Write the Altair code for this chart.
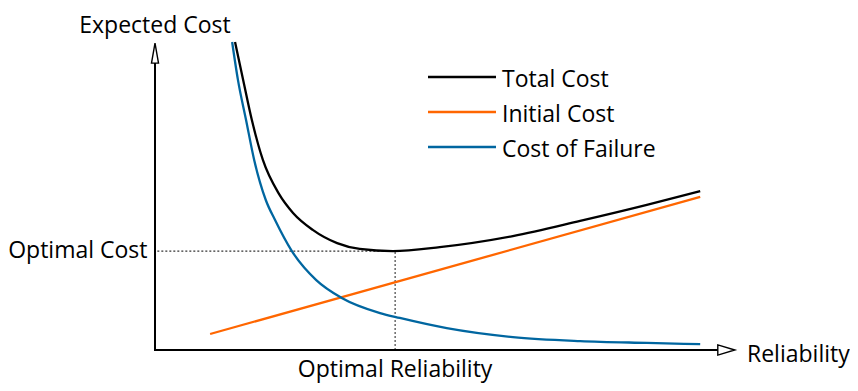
import altair as alt
import pandas as pd

# ---- values (arbitrary units, 0-100 on both axes) ----
series_names = ["Total Cost", "Initial Cost", "Cost of Failure"]
series_colors = ["#000000", "#ff6600", "#0066a0"]

total_x = [13.8, 15.2, 16.7, 18.6, 21.4, 23.8, 27.2, 31.4, 35.3, 41.0, 49.1, 61.7, 73.3, 84.8, 94.0]
total_y = [100.0, 87.7, 74.7, 61.7, 50.6, 44.5, 39.0, 34.7, 32.8, 32.1, 33.4, 37.0, 41.9, 47.1, 51.6]

initial_x = [9.5, 94.0]
initial_y = [5.2, 49.7]

failure_x = [13.3, 14.3, 15.7, 17.1, 19.1, 20.7, 23.6, 27.8, 32.2, 38.8, 42.2, 50.3, 61.7, 73.3, 84.8, 94.0]
failure_y = [100.0, 87.7, 74.7, 61.7, 48.7, 42.2, 32.1, 22.7, 16.9, 12.0, 10.4, 7.1, 4.2, 2.9, 2.3, 1.9]

optimal_reliability = 41.4
optimal_cost = 32.1

axis_x_end = 97.1
axis_y_end = 93.2
arrow_x_pos = 98.5
arrow_y_pos = 96.4

x_label = "Reliability"
y_label = "Expected Cost"
opt_cost_label = "Optimal Cost"
opt_rel_label = "Optimal Reliability"

# ---- build tables ----
rows = []
for name, xs_, ys_ in [("Total Cost", total_x, total_y),
                       ("Initial Cost", initial_x, initial_y),
                       ("Cost of Failure", failure_x, failure_y)]:
    for i, (a, b) in enumerate(zip(xs_, ys_)):
        rows.append({"series": name, "rel": a, "cost": b, "order": i})
curves = pd.DataFrame(rows)

FONT = "Open Sans"
FS = 23


def xs():
    return alt.Scale(domain=[0, 100], range=[147, 727], nice=False, zero=False)


def ys():
    return alt.Scale(domain=[0, 100], range=[342, 34], nice=False, zero=False)


color_scale = alt.Scale(domain=series_names, range=series_colors)

lines = alt.Chart(curves).mark_line(interpolate="monotone", strokeWidth=2.3).encode(
    x=alt.X("rel:Q", scale=xs(), axis=None),
    y=alt.Y("cost:Q", scale=ys(), axis=None),
    color=alt.Color("series:N", scale=color_scale, legend=None),
    order="order:Q",
)

axes_df = pd.DataFrame({"x": [0, 0], "y": [0, 0], "x2": [axis_x_end, 0], "y2": [0, axis_y_end]})
axes = alt.Chart(axes_df).mark_rule(color="black", strokeWidth=2, strokeCap="square").encode(
    x=alt.X("x:Q", scale=xs(), axis=None),
    y=alt.Y("y:Q", scale=ys(), axis=None),
    x2="x2:Q",
    y2="y2:Q",
)

arrow_x = alt.Chart(pd.DataFrame({"x": [arrow_x_pos], "y": [0]})).mark_point(
    shape="M1,0L-1,-0.6L-1,0.6Z", size=289, filled=True, fill="white",
    stroke="black", strokeWidth=1.4, opacity=1,
).encode(x=alt.X("x:Q", scale=xs(), axis=None), y=alt.Y("y:Q", scale=ys(), axis=None))

arrow_y = alt.Chart(pd.DataFrame({"x": [0], "y": [arrow_y_pos]})).mark_point(
    shape="M0,-1L0.35,1L-0.35,1Z", size=400, filled=True, fill="white",
    stroke="black", strokeWidth=1.4, opacity=1,
).encode(x=alt.X("x:Q", scale=xs(), axis=None), y=alt.Y("y:Q", scale=ys(), axis=None))

guide_df = pd.DataFrame({"x": [0.4, optimal_reliability], "y": [optimal_cost, 0],
                         "x2": [optimal_reliability, optimal_reliability],
                         "y2": [optimal_cost, optimal_cost]})
guides = alt.Chart(guide_df).mark_rule(color="#333333", strokeWidth=1.1, strokeDash=[2, 2]).encode(
    x=alt.X("x:Q", scale=xs(), axis=None),
    y=alt.Y("y:Q", scale=ys(), axis=None),
    x2="x2:Q",
    y2="y2:Q",
)

t_ylabel = alt.Chart(pd.DataFrame({"t": [y_label]})).mark_text(
    font=FONT, fontSize=FS, color="black", align="center", baseline="alphabetic"
).encode(text="t:N", x=alt.value(147), y=alt.value(25))

t_xlabel = alt.Chart(pd.DataFrame({"t": [x_label], "y": [0]})).mark_text(
    font=FONT, fontSize=FS, color="black", align="left", baseline="alphabetic", dy=12
).encode(text="t:N", x=alt.value(739), y=alt.Y("y:Q", scale=ys(), axis=None))

t_optcost = alt.Chart(pd.DataFrame({"t": [opt_cost_label], "y": [optimal_cost]})).mark_text(
    font=FONT, fontSize=FS, color="black", align="right", baseline="alphabetic", dy=7
).encode(text="t:N", x=alt.value(139.5), y=alt.Y("y:Q", scale=ys(), axis=None))

t_optrel = alt.Chart(pd.DataFrame({"t": [opt_rel_label], "x": [optimal_reliability]})).mark_text(
    font=FONT, fontSize=FS, color="black", align="center", baseline="alphabetic"
).encode(text="t:N", x=alt.X("x:Q", scale=xs(), axis=None), y=alt.value(369))

legend_df = pd.DataFrame({"series": series_names})
leg_y = alt.Y("series:N", sort=series_names,
              scale=alt.Scale(type="point", domain=series_names, range=[69, 139], padding=0),
              axis=None)
leg_lines = alt.Chart(legend_df).mark_rule(strokeWidth=2.3).encode(
    x=alt.value(420), x2=alt.value(488), y=leg_y,
    color=alt.Color("series:N", scale=color_scale, legend=None),
)
leg_text = alt.Chart(legend_df).mark_text(
    font=FONT, fontSize=FS, color="black", align="left", baseline="alphabetic", dy=10
).encode(text="series:N", x=alt.value(494), y=leg_y)

chart = alt.layer(
    guides, lines, axes, arrow_x, arrow_y,
    t_ylabel, t_xlabel, t_optcost, t_optrel, leg_lines, leg_text,
).resolve_scale(y="independent", color="independent").properties(
    width=842, height=375, autosize=alt.AutoSizeParams(type="none"), padding=0,
    background="white",
).configure_view(stroke=None)

chart.save("out.html", embed_options={"renderer": "svg", "actions": False})
